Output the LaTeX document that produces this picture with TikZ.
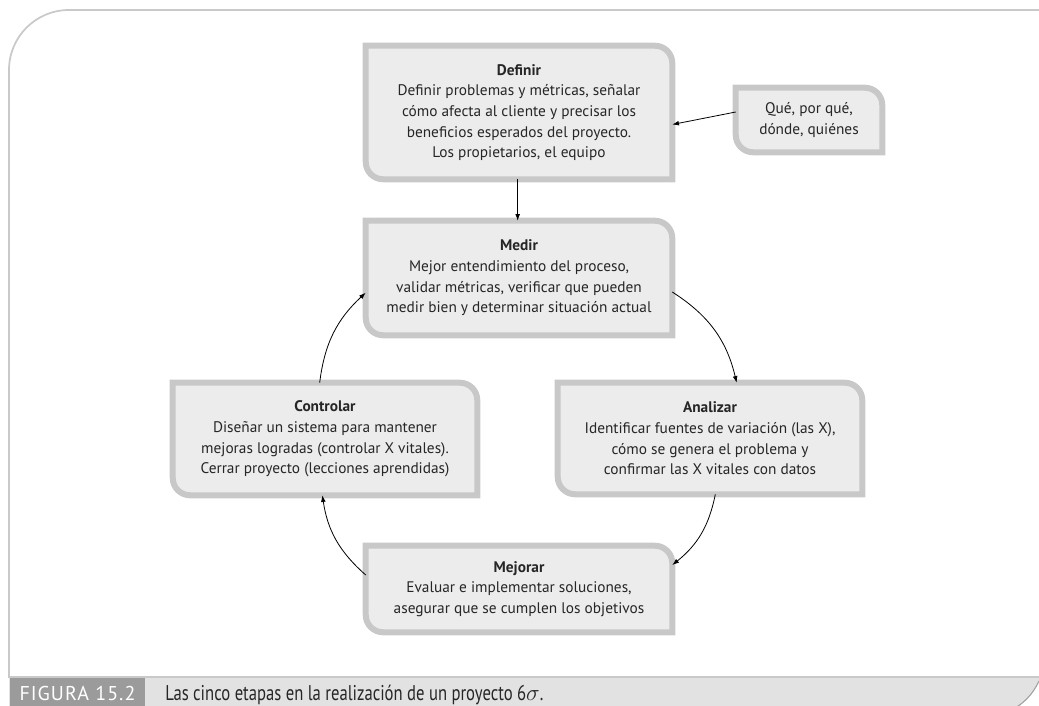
\documentclass[tikz,border=0pt]{standalone}
\usepackage{fontspec}
\setmainfont{PT Sans}
\newfontfamily\capfont[FakeStretch=0.78]{PT Sans}
\newfontfamily\figfont[LetterSpace=5]{PT Sans}
\usetikzlibrary{arrows.meta}
\pgfdeclarelayer{background}
\pgfsetlayers{background,main}
\definecolor{boxfill}{HTML}{ECECEC}
\definecolor{boxline}{HTML}{C8C8C8}
\definecolor{txt}{HTML}{262626}
\definecolor{framecol}{HTML}{C9C9C9}
\definecolor{barfill}{HTML}{E2E2E2}
\definecolor{figfill}{HTML}{9B9B9B}
\newcommand{\stageframe}[1]{%
  \filldraw[stageline] (#1.north west) -- ([xshift=-13pt]#1.north east)
    arc[start angle=90,end angle=0,radius=13pt] -- (#1.south east)
    -- ([xshift=13pt]#1.south west)
    arc[start angle=270,end angle=180,radius=13pt] -- cycle;}
\tikzset{
  stage/.style={inner sep=0pt, align=center, text=txt,
    font=\fontsize{11.5}{15.5}\selectfont},
  stageline/.style={fill=boxfill, draw=boxline, line width=4.5pt},
  arr/.style={draw=black, line width=0.6pt, -{Latex[length=5pt,width=3.6pt]}},
  captext/.style={inner sep=0pt, font=\capfont\fontsize{16}{18}\selectfont},
}
\begin{document}
\begin{tikzpicture}[x=0.75pt,y=-0.75pt]
\useasboundingbox (0,0) rectangle (1039,706);
\clip (0,0) rectangle (1039,706);
% outer frame
\draw[framecol, line width=1.3pt, rounded corners=45pt] (9,677) -- (9,10) -- (1080,10);
% caption bar
\fill[barfill] (9,677) -- (1039,677) -- (1039,680) .. controls (1032,696) and (1022,705) .. (1008,712) -- (9,712) -- cycle;
\draw[framecol, line width=1.5pt] (8,677) -- (1039,677);
\draw[gray!75, line width=0.8pt] (1039,681) .. controls (1032,696) and (1022,705) .. (1008,712);
\node[inner sep=0pt, fill=figfill, minimum width=101.25pt, minimum height=22.5pt,
  text=white, font=\figfont\fontsize{15}{18}\selectfont] (fig) at (77.5,693) {FIGURA 15.2};
\node[captext, anchor=base west, text=txt]
  (cap) at (165,700) {Las cinco etapas en la realización de un proyecto 6$\sigma$.};
% stages
\node[stage, minimum width=229.5pt, minimum height=99.75pt] (def) at (519,112.5)
  {\textbf{Definir}\\Definir problemas y métricas, señalar\\cómo afecta al cliente y precisar los\\beneficios esperados del proyecto.\\Los propietarios, el equipo};
\node[stage, minimum width=109.5pt, minimum height=48pt] (que) at (809,120)
  {Qué, por qué,\\dónde, quiénes};
\node[stage, minimum width=229.5pt, minimum height=85.5pt] (med) at (519,278)
  {\textbf{Medir}\\Mejor entendimiento del proceso,\\validar métricas, verificar que pueden\\medir bien y determinar situación actual};
\node[stage, minimum width=228pt, minimum height=84pt] (con) at (325,439)
  {\textbf{Controlar}\\Diseñar un sistema para mantener\\mejoras logradas (controlar X vitales).\\Cerrar proyecto (lecciones aprendidas)};
\node[stage, minimum width=228pt, minimum height=83.25pt] (ana) at (710,438.5)
  {\textbf{Analizar}\\Identificar fuentes de variación (las X),\\cómo se genera el problema y\\confirmar las X vitales con datos};
\node[stage, minimum width=229.5pt, minimum height=64.5pt] (mej) at (519,589)
  {\textbf{Mejorar}\\Evaluar e implementar soluciones,\\asegurar que se cumplen los objetivos};
\begin{pgfonlayer}{background}
\stageframe{def}\stageframe{que}\stageframe{med}\stageframe{con}\stageframe{ana}\stageframe{mej}
\end{pgfonlayer}
% connectors
\draw[arr] ([yshift=6pt]que.west) -- ([yshift=-9pt]def.east);
\draw[arr] ([xshift=-1pt]def.south) -- ([xshift=-1pt]med.north);
\draw[arr] ([yshift=-10.5pt]med.east) to[bend left=22] ([xshift=20pt]ana.north);
\draw[arr] ([xshift=4pt]ana.south) to[bend left=20] ([yshift=18pt]mej.east);
\draw[arr] ([yshift=10.5pt]mej.west) to[bend left=20] ([xshift=-2pt]con.south);
\draw[arr] ([xshift=-4pt]con.north) to[bend left=20] ([yshift=-11pt]med.west);
\end{tikzpicture}
\end{document}
